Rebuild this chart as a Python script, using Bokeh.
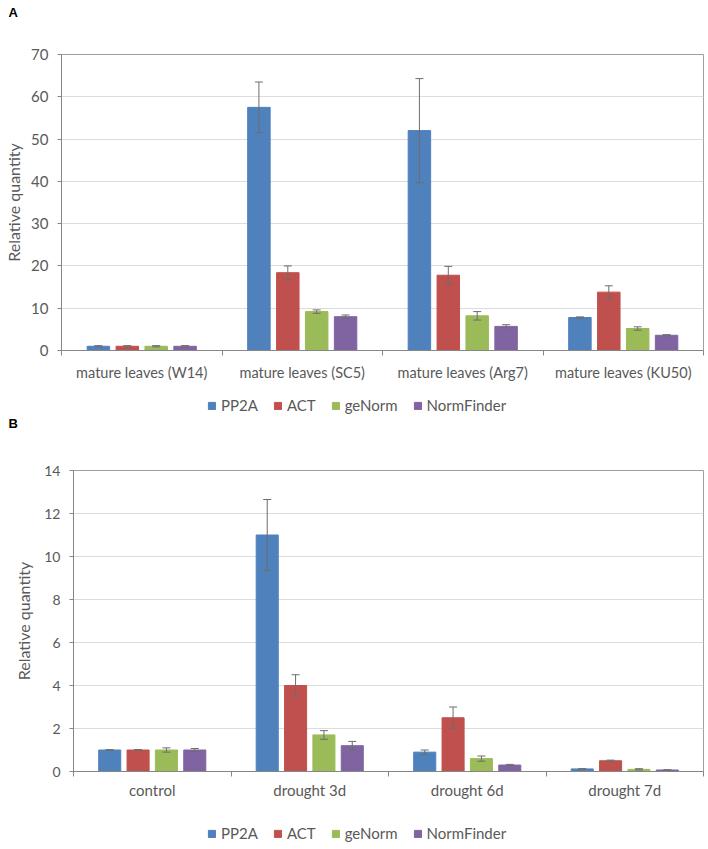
import numpy as np
from bokeh.plotting import figure
from bokeh.models import (ColumnDataSource, Whisker, Legend, LegendItem, FixedTicker,
                          Range1d, Label)
from bokeh.layouts import column
from bokeh.embed import file_html
from bokeh.resources import INLINE

series = ["PP2A", "ACT", "geNorm", "NormFinder"]
colors = ["#4F81BD", "#C0504D", "#9BBB59", "#8064A2"]

# Panel A
a_cats = ["mature leaves (W14)", "mature leaves (SC5)", "mature leaves (Arg7)", "mature leaves (KU50)"]
a_pp2a = [1.0, 57.5, 52.0, 7.8]
a_pp2a_err = [0.15, 6.0, 12.3, 0.15]
a_act = [1.0, 18.4, 17.8, 13.8]
a_act_err = [0.15, 1.6, 2.1, 1.5]
a_genorm = [1.0, 9.2, 8.2, 5.2]
a_genorm_err = [0.15, 0.4, 1.0, 0.4]
a_nf = [1.0, 8.0, 5.7, 3.6]
a_nf_err = [0.15, 0.4, 0.4, 0.15]
a_yticks = [0, 10, 20, 30, 40, 50, 60, 70]

# Panel B
b_cats = ["control", "drought 3d", "drought 6d", "drought 7d"]
b_pp2a = [1.0, 11.0, 0.9, 0.12]
b_pp2a_err = [0.02, 1.65, 0.1, 0.01]
b_act = [1.0, 4.0, 2.5, 0.5]
b_act_err = [0.02, 0.5, 0.5, 0.03]
b_genorm = [1.0, 1.7, 0.6, 0.1]
b_genorm_err = [0.1, 0.2, 0.12, 0.03]
b_nf = [1.0, 1.2, 0.3, 0.07]
b_nf_err = [0.07, 0.2, 0.03, 0.01]
b_yticks = [0, 2, 4, 6, 8, 10, 12, 14]

FONT = "Lato"
TXT = "#595959"
AXC = "#868686"
ERRC = "#6d6d6d"
W = 706


def make_header(letter, height):
    h = figure(width=W, height=height, output_backend="svg", toolbar_location=None,
               x_range=Range1d(0, 1), y_range=Range1d(0, 1),
               x_axis_location=None, y_axis_location=None, min_border=0)
    h.frame_align = False
    h.grid.visible = False
    h.outline_line_color = None
    h.add_layout(Label(x=8, y=height / 2, x_units="screen", y_units="screen",
                       text=letter, text_font="Liberation Sans", text_font_style="bold",
                       text_font_size="13px", text_color="#000000",
                       text_baseline="middle", text_align="left"))
    return h


def make_panel(cats, vals, errs, yticks, height, left, top, bottom,
               xfont, xstandoff, yfont, ylab_standoff):
    n = len(cats)
    p = figure(width=W, height=height, output_backend="svg", toolbar_location=None,
               x_range=Range1d(0, n), y_range=Range1d(yticks[0], yticks[-1]),
               min_border_left=left, min_border_right=3, min_border_top=top,
               min_border_bottom=bottom)
    p.frame_align = False
    offsets = [-0.27, -0.09, 0.09, 0.27]
    sources = []
    for k, name in enumerate(series):
        xs = [i + 0.5 + offsets[k] for i in range(n)]
        src = ColumnDataSource(dict(
            x=xs, top=vals[k],
            up=[v + e for v, e in zip(vals[k], errs[k])],
            lo=[v - e for v, e in zip(vals[k], errs[k])]))
        sources.append(src)
        p.vbar(x="x", top="top", width=0.14, source=src,
               fill_color=colors[k], line_color=colors[k])
        w = Whisker(base="x", upper="up", lower="lo", source=src,
                    line_color=ERRC, line_width=1, level="overlay")
        w.upper_head.size = 8
        w.lower_head.size = 8
        w.upper_head.line_color = ERRC
        w.lower_head.line_color = ERRC
        p.add_layout(w)

    p.xaxis.ticker = FixedTicker(ticks=[i + 0.5 for i in range(n)],
                                 minor_ticks=list(range(n + 1)))
    p.xaxis.major_label_overrides = {i + 0.5: c for i, c in enumerate(cats)}
    p.xaxis.major_tick_line_color = None
    p.xaxis.major_tick_out = 0
    p.xaxis.major_tick_in = 0
    p.xaxis.minor_tick_out = 5
    p.xaxis.minor_tick_in = 0
    p.xaxis.minor_tick_line_color = AXC
    p.xaxis.major_label_standoff = xstandoff
    p.xaxis.major_label_text_font = FONT
    p.xaxis.major_label_text_font_size = xfont
    p.xaxis.major_label_text_color = TXT
    p.xaxis.axis_line_color = AXC

    p.yaxis.ticker = FixedTicker(ticks=yticks)
    p.yaxis.major_tick_out = 4
    p.yaxis.major_tick_in = 0
    p.yaxis.major_tick_line_color = AXC
    p.yaxis.minor_tick_line_color = None
    p.yaxis.axis_line_color = AXC
    p.yaxis.major_label_text_font = FONT
    p.yaxis.major_label_text_font_size = yfont
    p.yaxis.major_label_text_color = TXT
    p.yaxis.major_label_standoff = 9
    p.yaxis.axis_label = "Relative quantity"
    p.yaxis.axis_label_text_font = FONT
    p.yaxis.axis_label_text_font_size = "16px"
    p.yaxis.axis_label_text_font_style = "normal"
    p.yaxis.axis_label_text_color = TXT
    p.yaxis.axis_label_standoff = ylab_standoff

    p.xgrid.grid_line_color = None
    p.ygrid.grid_line_color = "#DCDCDC"
    p.outline_line_color = "#A0A0A0"
    return p, sources


def make_legend(sources, height, x, y, font):
    # legend strip; the series renderers share the panel's data but lie outside this strip's view
    q = figure(width=W, height=height, output_backend="svg", toolbar_location=None,
               x_range=Range1d(-20, -19), y_range=Range1d(0, 1),
               x_axis_location=None, y_axis_location=None, min_border=0)
    q.frame_align = False
    q.grid.visible = False
    q.outline_line_color = None
    items = []
    for k, name in enumerate(series):
        r = q.vbar(x="x", top="top", width=0.14, source=sources[k],
                   fill_color=colors[k], line_color=colors[k])
        items.append(LegendItem(label=name, renderers=[r]))
    leg = Legend(items=items, orientation="horizontal", location=(x, y))
    leg.border_line_color = None
    leg.background_fill_alpha = 0
    leg.label_text_font = FONT
    leg.label_text_font_size = font
    leg.label_text_color = TXT
    leg.glyph_width = 9
    leg.glyph_height = 9
    leg.label_standoff = 5
    leg.spacing = 15
    leg.padding = 0
    leg.margin = 0
    q.add_layout(leg)
    return q


hA = make_header("A", 24)
pA, srcA = make_panel(a_cats, [a_pp2a, a_act, a_genorm, a_nf],
                      [a_pp2a_err, a_act_err, a_genorm_err, a_nf_err], a_yticks,
                      366, 61, 30, 40, "14.5px", 8, "15px", 5)
lA = make_legend(srcA, 24, 207, 0, "15px")
hB = make_header("B", 18)
pB, srcB = make_panel(b_cats, [b_pp2a, b_act, b_genorm, b_nf],
                      [b_pp2a_err, b_act_err, b_genorm_err, b_nf_err], b_yticks,
                      379, 73, 38, 40, "15px", 4, "14px", 8)
lB = make_legend(srcB, 37, 207, 6, "15px")

layout = column(hA, pA, lA, hB, pB, lB)
open("out.html", "w").write(file_html(layout, INLINE))
